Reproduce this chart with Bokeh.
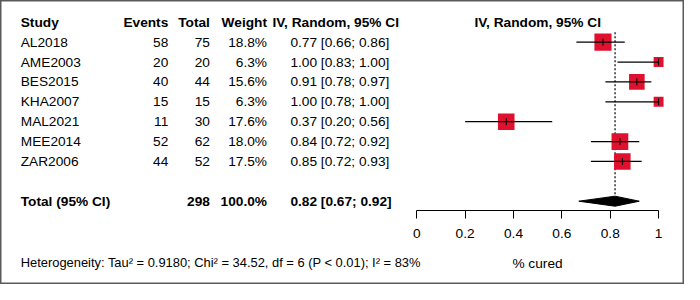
import math
from bokeh.plotting import figure
from bokeh.models import Range1d, LinearAxis, FixedTicker, ColumnDataSource
from bokeh.core.properties import value
from bokeh.embed import file_html
from bokeh.resources import INLINE

# ---------------- data ----------------
studies = ["AL2018", "AME2003", "BES2015", "KHA2007", "MAL2021", "MEE2014", "ZAR2006"]
events = [58, 20, 40, 15, 11, 52, 44]
totals = [75, 20, 44, 15, 30, 62, 52]
weights = [18.8, 6.3, 15.6, 6.3, 17.6, 18.0, 17.5]
estimates = [0.77, 1.00, 0.91, 1.00, 0.37, 0.84, 0.85]
lower = [0.66, 0.83, 0.78, 0.78, 0.20, 0.72, 0.72]
upper = [0.86, 1.00, 0.97, 1.00, 0.56, 0.92, 0.93]

pooled_label = "Total (95% CI)"
pooled_total = 298
pooled_weight = 100.0
pooled_est = 0.82
pooled_lo = 0.67
pooled_hi = 0.92

col_headers = ["Study", "Events", "Total", "Weight", "IV, Random, 95% CI"]
forest_header = "IV, Random, 95% CI"
heterogeneity = "Heterogeneity: Tau\u00b2 = 0.9180; Chi\u00b2 = 34.52, df = 6 (P < 0.01); I\u00b2 = 83%"
x_ticks = [0, 0.2, 0.4, 0.6, 0.8, 1]
x_tick_labels = ["0", "0.2", "0.4", "0.6", "0.8", "1"]
x_label = "% cured"

# ---------------- layout helpers ----------------
W, H = 684, 284
REF_W, REF_H = 700, 300
X0_PX, X1_PX = 426.0, 673.5          # where 0 and 1 of the effect axis sit
ROW0_PX, ROW_PX = 23.0, 21.0         # header row centre and row spacing


def px(rx):
    return (rx - X0_PX) / (X1_PX - X0_PX)


def row(ry):
    return (ry - ROW0_PX) / ROW_PX


FONT = value("Liberation Sans")
FS = "13.7px"
RED = "#E0102F"

p = figure(width=W, height=H, output_backend="svg", toolbar_location=None,
           x_range=Range1d(px(0), px(REF_W)), y_range=Range1d(row(REF_H), row(0)),
           x_axis_type=None, y_axis_type=None, min_border=0,
           background_fill_color="white", border_fill_color="white",
           outline_line_color="#5a5a5a", outline_line_width=2)
p.grid.visible = False

n = len(studies)
rows = [i + 1 for i in range(n)]
total_row = n + 2

# ---------------- table ----------------
hdr_x = [px(20.7), px(171.7), px(214.3), px(272.7), px(278.3)]
hdr_align = ["left", "right", "right", "right", "left"]
p.text(x=hdr_x, y=[0] * 5, text=col_headers, text_align=hdr_align,
       text_baseline="middle", text_font=FONT, text_font_size=FS,
       text_font_style="bold", text_color="black")
p.text(x=[0.5], y=[0], text=[forest_header], text_align="center",
       text_baseline="middle", text_font=FONT, text_font_size=FS,
       text_font_style="bold", text_color="black")

tbl = ColumnDataSource(dict(
    y=rows,
    study=studies,
    events=[str(e) for e in events],
    total=[str(t) for t in totals],
    weight=["%.1f%%" % w for w in weights],
    ci=["%.2f [%.2f; %.2f]" % (e, l, u) for e, l, u in zip(estimates, lower, upper)],
))
common = dict(source=tbl, text_baseline="middle", text_font=FONT,
              text_font_size=FS, text_color="black")
p.text(x=px(20.7), y="y", text="study", text_align="left", **common)
p.text(x=px(171.7), y="y", text="events", text_align="right", **common)
p.text(x=px(214.3), y="y", text="total", text_align="right", **common)
p.text(x=px(272.7), y="y", text="weight", text_align="right", **common)
p.text(x=px(296.7), y="y", text="ci", text_align="left", **common)

bold = dict(text_baseline="middle", text_font=FONT, text_font_size=FS,
            text_font_style="bold", text_color="black")
p.text(x=[px(20.7)], y=[total_row], text=[pooled_label], text_align="left", **bold)
p.text(x=[px(214.3)], y=[total_row], text=[str(pooled_total)], text_align="right", **bold)
p.text(x=[px(272.7)], y=[total_row], text=["%.1f%%" % pooled_weight], text_align="right", **bold)
p.text(x=[px(296.7)], y=[total_row],
       text=["%.2f [%.2f; %.2f]" % (pooled_est, pooled_lo, pooled_hi)],
       text_align="left", **bold)

# ---------------- forest ----------------
half_h = 5.3 / ROW_PX
p.segment(x0=[pooled_est], y0=[0.5], x1=[pooled_est], y1=[total_row - half_h],
          line_color="#333333", line_width=1.5, line_dash="2 2")

fs = ColumnDataSource(dict(
    y=rows, est=estimates, lo=lower, hi=upper,
    size=[3.95 * math.sqrt(w) for w in weights],
))
p.scatter(x="est", y="y", size="size", marker="square", source=fs,
          fill_color=RED, line_color=None)
p.segment(x0="lo", y0="y", x1="hi", y1="y", source=fs, line_color="black", line_width=1.2)
p.scatter(x="est", y="y", size=7, marker="dash", angle=math.pi / 2, source=fs,
          line_color="black", line_width=1)

p.patch(x=[pooled_lo, pooled_est, pooled_hi, pooled_est],
        y=[total_row, total_row - half_h, total_row, total_row + half_h],
        fill_color="black", line_color="black", line_width=1)

# ---------------- axis ----------------
ax = LinearAxis(fixed_location=row(221.7), bounds=(0, 1),
                ticker=FixedTicker(ticks=x_ticks),
                major_label_overrides=dict(zip(x_ticks, x_tick_labels)),
                major_tick_out=8, major_tick_in=0, minor_tick_out=0, minor_tick_in=0,
                major_label_standoff=11,
                major_label_text_font="Liberation Sans", major_label_text_font_size=FS,
                major_label_text_color="black",
                axis_label=x_label, axis_label_standoff=14,
                axis_label_text_font="Liberation Sans", axis_label_text_font_size=FS,
                axis_label_text_font_style="normal", axis_label_text_color="black",
                axis_line_color="black", major_tick_line_color="black")
p.add_layout(ax, "below")

p.text(x=[px(20.7)], y=[row(276.7)], text=[heterogeneity], text_align="left",
       text_baseline="middle", text_font=FONT, text_font_size="12.9px", text_color="black")

open("out.html", "w").write(file_html(p, INLINE))
